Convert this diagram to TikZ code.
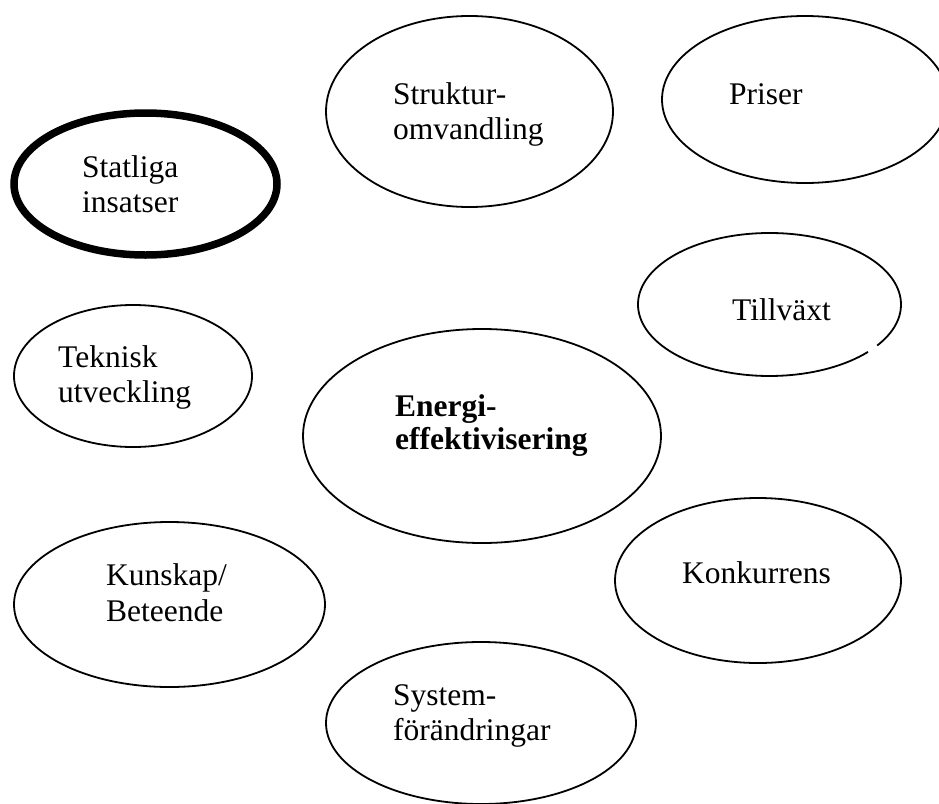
\documentclass[tikz,border=0pt]{standalone}
\usepackage{fontspec}
\setmainfont{Liberation Serif}
\usetikzlibrary{shapes.geometric}
\begin{document}
\begin{tikzpicture}[x=1pt,y=-1pt,
  oval/.style={ellipse,draw,line width=1.8pt,inner sep=0pt},
  lbl/.style={anchor=base west,inner sep=0pt,font=\fontsize{31.5}{35}\selectfont}]
\useasboundingbox (0,0) rectangle (939,803);
\clip (0,0) rectangle (939,803);
\node[oval,line width=7.5pt,minimum width=263pt,minimum height=142pt] (S) at (145.5,184) {};
\node[oval,minimum width=287pt,minimum height=191pt] (St) at (469.5,111.5) {};
\node[oval,minimum width=286pt,minimum height=167pt] (P) at (805,99.5) {};
\node[ellipse,inner sep=0pt,minimum width=263pt,minimum height=143pt] (T) at (769.5,304.5) {};
\draw[line width=1.8pt] ([shift={(-35:131.5pt and 71.5pt)}]T.center) arc[start angle=-35,end angle=318.5,x radius=131.5pt,y radius=71.5pt];
\node[oval,minimum width=238pt,minimum height=142pt] (Tk) at (133,376) {};
\node[oval,minimum width=358pt,minimum height=214pt] (E) at (482,436) {};
\node[oval,minimum width=311pt,minimum height=165pt] (K) at (169.5,604.5) {};
\node[oval,minimum width=286pt,minimum height=165pt] (Ko) at (758,580.5) {};
\node[oval,minimum width=310pt,minimum height=162pt] (Sy) at (481,723) {};
\node[lbl] (s1) at (82,177) {Statliga};
\node[lbl] (s2) at (82,212) {insatser};
\node[lbl] (st1) at (393,104) {Struktur-};
\node[lbl] (st2) at (393,139) {omvandling};
\node[lbl] (p1) at (729,104) {Priser};
\node[lbl] (t1) at (732,320) {Tillväxt};
\node[lbl] (tk1) at (58,367) {Teknisk};
\node[lbl] (tk2) at (58,402) {utveckling};
\node[lbl,font=\fontsize{31.5}{35}\selectfont\bfseries] (e1) at (395,416) {Energi-};
\node[lbl,font=\fontsize{31.5}{35}\selectfont\bfseries] (e2) at (395,449) {effektivisering};
\node[lbl] (k1) at (106,585) {Kunskap/};
\node[lbl] (k2) at (106,621) {Beteende};
\node[lbl] (ko1) at (682,583) {Konkurrens};
\node[lbl] (sy1) at (393,705) {System-};
\node[lbl] (sy2) at (393,740) {förändringar};
\end{tikzpicture}
\end{document}
